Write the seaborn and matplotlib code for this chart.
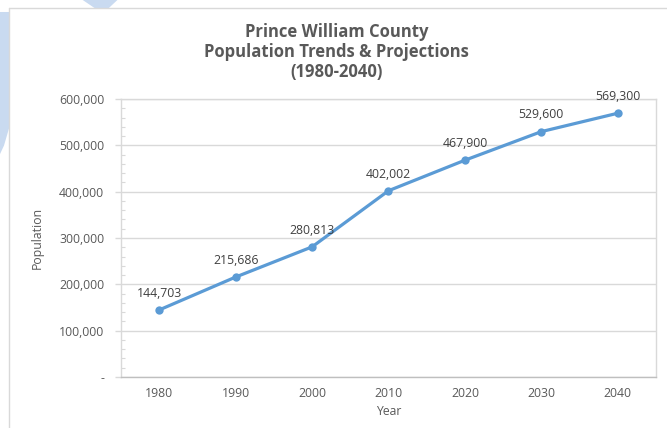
import matplotlib
matplotlib.use("Agg")
import matplotlib.pyplot as plt
import matplotlib.ticker as mticker
from matplotlib.patches import Polygon
from matplotlib.lines import Line2D
import seaborn as sns

# --- dados ---
anos = [1980, 1990, 2000, 2010, 2020, 2030, 2040]
populacao = [144703, 215686, 280813, 402002, 467900, 529600, 569300]
rotulos = ["144,703", "215,686", "280,813", "402,002", "467,900", "529,600", "569,300"]
titulo = "Prince William County\nPopulation Trends & Projections\n(1980-2040)"

sns.set_theme(style="white")
plt.rcParams['font.family'] = ['Open Sans', 'DejaVu Sans']

cinza = "#595959"
azul = "#5B9BD5"
grade = "#D9D9D9"

fig = plt.figure(figsize=(6.67, 4.28), dpi=100)

# restos do recorte da tela (fundo azul claro + moldura do grafico)
fig.patches.append(Polygon([(0, 0.972), (0.0135, 0.972), (0.0135, 0.70), (0.006, 0.66), (0, 0.64)],
                           closed=True, transform=fig.transFigure, facecolor="#C9DAF0",
                           edgecolor="none", zorder=0))
fig.patches.append(Polygon([(0.124, 1.0), (0.176, 1.0), (0.163, 0.981), (0.142, 0.981)],
                           closed=True, transform=fig.transFigure, facecolor="#C9DAF0",
                           edgecolor="none", zorder=0))
fig.lines.append(Line2D([0.0135, 1.0], [0.981, 0.981], transform=fig.transFigure, color=grade, lw=1))
fig.lines.append(Line2D([0.0135, 0.0135], [0.0, 0.981], transform=fig.transFigure, color=grade, lw=1))

ax = fig.add_axes([0.1814, 0.1192, 0.8021, 0.6495])
sns.lineplot(x=anos, y=populacao, ax=ax, color=azul, linewidth=2.3,
             marker="o", markersize=6, markeredgewidth=0, markerfacecolor=azul)

for x, y, txt in zip(anos, populacao, rotulos):
    ax.annotate(txt, (x, y), xytext=(0, 12), textcoords="offset points",
                ha="center", va="center", fontsize=8.8, color="#404040")

ax.set_xlim(1975, 2045)
ax.set_ylim(0, 600000)
ax.set_xticks(anos)
ax.set_yticks(range(0, 600001, 100000))
ax.yaxis.set_minor_locator(mticker.MultipleLocator(20000))
ax.yaxis.set_major_formatter(mticker.FuncFormatter(lambda v, p: "-" if v == 0 else f"{v:,.0f}"))

ax.grid(axis="y", color=grade, linewidth=1)
ax.grid(axis="x", visible=False)
for s in ax.spines.values():
    s.set_color(grade)
    s.set_linewidth(1)
ax.spines["bottom"].set_color("#BFBFBF")

ax.tick_params(axis="x", length=0, pad=7, labelsize=8.8, labelcolor=cinza)
ax.tick_params(axis="y", which="major", length=4, width=1, color=grade, direction="out",
               pad=8, labelsize=8.8, labelcolor=cinza, left=True)
ax.tick_params(axis="y", which="minor", length=3, width=0.8, color=grade, direction="in", left=True)

ax.set_xlabel("Year", fontsize=8.8, color=cinza, labelpad=4)
ax.set_ylabel("Population", fontsize=8.8, color=cinza, labelpad=11)

fig.text(0.505, 0.878, titulo, ha="center", va="center", fontsize=12,
         fontweight="bold", color=cinza, linespacing=1.15)

fig.savefig("out.png", dpi=100)
